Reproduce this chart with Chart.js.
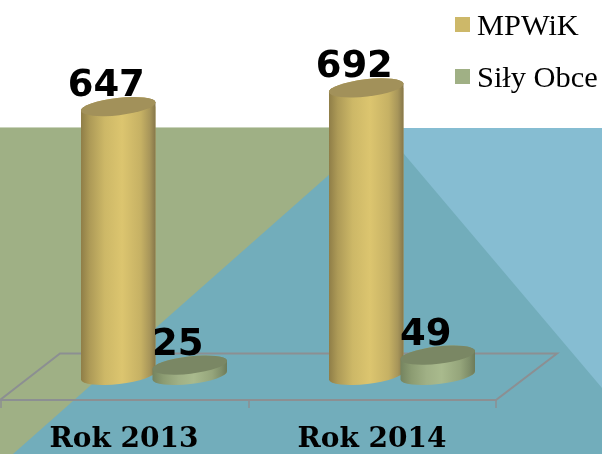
<!DOCTYPE html>
<html><head><meta charset="utf-8">
<style>html,body{margin:0;padding:0;background:#fff}canvas{display:block}</style>
<script src="https://cdn.jsdelivr.net/npm/chart.js@4"></script>
</head><body>
<canvas id="c" width="602" height="454"></canvas>
<script>
const categories = ['Rok 2013', 'Rok 2014'];
const mpwik = [647, 692];
const silyObce = [25, 49];
const seriesNames = ['MPWiK', 'Siły Obce'];
const seriesColors = ['#CDB869', '#A0B085'];
const cylinderStops = [
  [[0,'#8E7D47'],[0.12,'#AD9A57'],[0.32,'#CDB867'],[0.55,'#DCC56F'],[0.8,'#C6B164'],[0.92,'#A8965A'],[1,'#85764A']],
  [[0,'#74835F'],[0.15,'#8C9C72'],[0.35,'#A0B085'],[0.55,'#A9BA8D'],[0.8,'#95A57B'],[0.92,'#7F8E69'],[1,'#6C7A59']]
];
const capColors = ['#A2915A', '#7A8764'];

const TILT = -0.115, RY = 8.6, DEPTH = 30;

function addBody(p, b) {
  const rx = b.width / 2;
  p.ellipse(b.x, b.y, rx, RY, TILT, Math.PI, 2 * Math.PI);
  p.ellipse(b.x, b.base, rx, RY, TILT, 0, Math.PI);
  p.closePath();
}
const scene = {
  id: 'scene',
  beforeDraw(chart) {
    const c = chart.ctx, W = chart.width, H = chart.height, x = chart.scales.x;
    const y0 = chart.scales.y.getPixelForValue(0);
    const top = 128, apex = 382;
    c.save();
    c.fillStyle = '#72ADBB'; c.fillRect(0, top, W, H - top);
    c.fillStyle = '#9FB085';
    c.beginPath(); c.moveTo(0, top); c.lineTo(apex, top); c.lineTo(13, H); c.lineTo(0, H); c.closePath(); c.fill();
    c.fillStyle = '#86BDD2';
    c.beginPath(); c.moveTo(apex, top); c.lineTo(W, top); c.lineTo(W, 388); c.closePath(); c.fill();
    c.fillStyle = 'rgba(255,255,255,0.45)'; c.fillRect(0, top - 1, W, 1);
    c.fillStyle = '#9FB085'; c.globalAlpha = 0.55; c.fillRect(0, top - 1, apex, 1); c.globalAlpha = 1;
    c.strokeStyle = '#8C8F92'; c.lineWidth = 2;
    const back = y0 - 22, front = y0 + 24.5;
    c.beginPath();
    c.moveTo(x.left + DEPTH, back); c.lineTo(x.right + DEPTH + 1, back);
    c.lineTo(x.right - DEPTH, front); c.lineTo(x.left - DEPTH, front); c.closePath();
    c.stroke();
    c.lineWidth = 1.5;
    [x.left - DEPTH + 1, (x.left + x.right) / 2 - DEPTH + 1, x.right - DEPTH].forEach(px => {
      c.beginPath(); c.moveTo(px, front); c.lineTo(px, front + 8); c.stroke();
    });
    c.restore();
  },
  beforeDatasetDraw(chart, args) {
    const c = chart.ctx;
    c.save();
    const region = new Path2D();
    args.meta.data.forEach(b => { const p = new Path2D(); addBody(p, b); region.addPath(p); });
    c.clip(region);
  },
  afterDatasetDraw(chart) {
    chart.ctx.restore();
  },
  afterDatasetsDraw(chart) {
    const c = chart.ctx;
    chart.data.datasets.forEach((ds, di) => {
      chart.getDatasetMeta(di).data.forEach(b => {
        const rx = b.width / 2;
        const g = c.createLinearGradient(b.x - rx, 0, b.x + rx, 0);
        cylinderStops[di].forEach(s => g.addColorStop(s[0], s[1]));
        c.save();
        const p = new Path2D(); addBody(p, b);
        c.fillStyle = g; c.fill(p);
        c.beginPath();
        c.ellipse(b.x, b.y, rx, RY, TILT, 0, 2 * Math.PI);
        c.fillStyle = capColors[di]; c.fill();
        c.restore();
      });
    });
  },
  afterDraw(chart) {
    const c = chart.ctx;
    c.save();
    c.font = 'bold 37px "DejaVu Sans"';
    c.fillStyle = '#000'; c.textAlign = 'center'; c.textBaseline = 'alphabetic';
    chart.data.datasets.forEach((ds, di) => {
      chart.getDatasetMeta(di).data.forEach((b, i) => {
        c.fillText(String(ds.data[i]), b.x - 12, b.y - 10.5);
      });
    });
    c.font = '30.4px "Liberation Serif"';
    c.textAlign = 'left';
    chart.data.datasets.forEach((ds, di) => {
      const boxY = 17 + di * 52;
      c.fillStyle = ds.backgroundColor;
      c.fillRect(455, boxY, 15, 15);
      c.fillStyle = '#000';
      c.fillText(ds.label, 477, boxY + 18);
    });
    c.restore();
  }
};

new Chart(document.getElementById('c'), {
  type: 'bar',
  data: {
    labels: categories,
    datasets: [
      { label: seriesNames[0], data: mpwik, backgroundColor: seriesColors[0] },
      { label: seriesNames[1], data: silyObce, backgroundColor: seriesColors[1] }
    ]
  },
  options: {
    responsive: false,
    animation: false,
    events: [],
    categoryPercentage: 0.5766,
    barPercentage: 1.049,
    layout: { padding: { left: 30, right: 76, top: 43, bottom: 0 } },
    scales: {
      x: {
        grid: { display: false, drawTicks: false }, border: { display: false },
        afterFit: s => { s.height = 78.5; },
        ticks: { color: '#000', padding: 47, labelOffset: -DEPTH, maxRotation: 0,
                 font: { family: '"DejaVu Serif"', size: 28, weight: 'bold' } }
      },
      y: { display: false, min: 0, max: 800 }
    },
    plugins: {
      tooltip: { enabled: false },
      legend: { display: false }
    }
  },
  plugins: [scene]
});
</script>
</body></html>
